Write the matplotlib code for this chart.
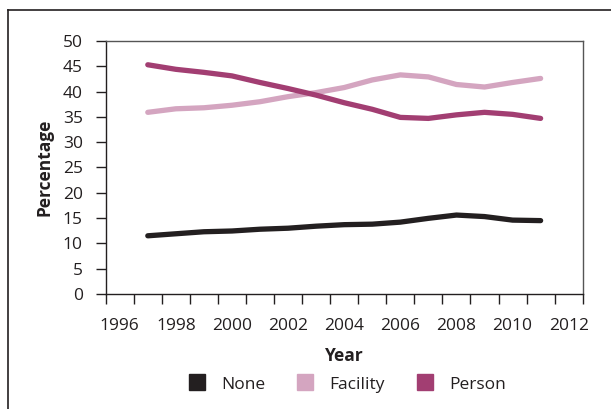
import numpy as np
import matplotlib.pyplot as plt
from matplotlib.lines import Line2D

plt.rcParams['font.family'] = ['Open Sans', 'DejaVu Sans']

years = list(range(1997, 2012))
none_pct = [11.5, 11.9, 12.3, 12.45, 12.8, 13.0, 13.4, 13.7, 13.8, 14.2, 14.95, 15.6, 15.3, 14.6, 14.5]
facility_pct = [35.9, 36.6, 36.8, 37.3, 38.0, 39.0, 39.8, 40.8, 42.3, 43.3, 42.9, 41.4, 40.9, 41.8, 42.6]
person_pct = [45.3, 44.4, 43.8, 43.1, 41.8, 40.6, 39.3, 37.8, 36.5, 34.9, 34.7, 35.4, 35.9, 35.5, 34.7]
series_names = ['None', 'Facility', 'Person']
colors = ['#231f20', '#d4a5c0', '#a23e72']
label_years = list(range(1996, 2013, 2))

ink = '#231f20'

fig = plt.figure(figsize=(6.11, 4.09), dpi=100)
ax = fig.add_axes([0.173, 0.2812, 0.7807, 0.6186])

for vals, c in zip([none_pct, facility_pct, person_pct], colors):
    ax.plot(years, vals, color=c, lw=3.8, solid_capstyle='round', solid_joinstyle='round')

ax.set_xlim(1995.5, 2012.5)
ax.set_ylim(0, 50)
ax.set_yticks(np.arange(0, 51, 5))
ax.set_xticks(label_years)
ax.set_xticks(np.arange(1995.5, 2013, 1), minor=True)
ax.tick_params(axis='x', which='major', length=0, pad=17, labelsize=12.5, labelcolor=ink)
ax.tick_params(axis='x', which='minor', length=7.5, width=1, color=ink)
ax.tick_params(axis='y', length=7.5, width=1, color=ink, pad=9, labelsize=12.5, labelcolor=ink)

for s in ['left', 'bottom']:
    ax.spines[s].set_color(ink)
    ax.spines[s].set_linewidth(1)
for s in ['top', 'right']:
    ax.spines[s].set_color('#555555')
    ax.spines[s].set_linewidth(1)

ax.set_xlabel('Year', fontsize=12.5, fontweight='bold', color=ink, labelpad=10)
ax.set_ylabel('Percentage', fontsize=12.5, fontweight='bold', color=ink, labelpad=7)

handles = [Line2D([], [], ls='none', marker='s', ms=12, color=c) for c in colors]
fig.legend(handles, series_names, loc='center', bbox_to_anchor=(0.568, 0.06), ncol=3,
           frameon=False, fontsize=12.5, handlelength=1, handletextpad=0.9,
           columnspacing=1.8, labelcolor=ink)

# outer frame
fig.add_artist(Line2D([8 / 611, 1], [1 - 10 / 409] * 2, transform=fig.transFigure, color=ink, lw=1.2))
fig.add_artist(Line2D([8 / 611] * 2, [0, 1 - 10 / 409], transform=fig.transFigure, color=ink, lw=1.2))

fig.savefig('out.png', dpi=100)
